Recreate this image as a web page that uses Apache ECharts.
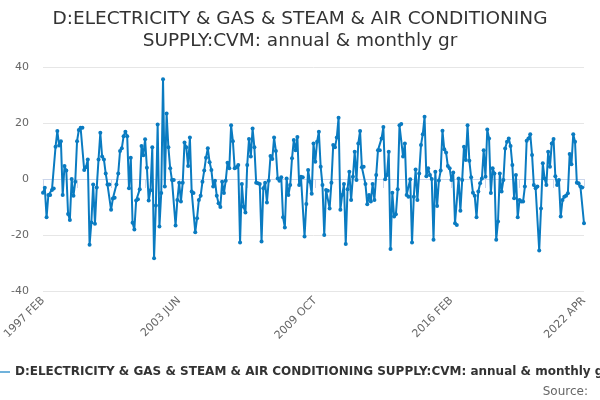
<!DOCTYPE html>
<html>
<head>
<meta charset="utf-8">
<script src="https://cdn.jsdelivr.net/npm/echarts@6/dist/echarts.min.js"></script>
<style>html,body{margin:0;padding:0;background:#fff}#c{width:600px;height:400px}</style>
</head>
<body>
<div id="c"></div>
<script>
var titleText = "D:ELECTRICITY & GAS & STEAM & AIR CONDITIONING\nSUPPLY:CVM: annual & monthly gr";
var seriesName = "D:ELECTRICITY & GAS & STEAM & AIR CONDITIONING SUPPLY:CVM: annual & monthly gr";
var monthNames = ["JAN","FEB","MAR","APR","MAY","JUN","JUL","AUG","SEP","OCT","NOV","DEC"];
var startYear = 1997, startMonth = 1, pointCount = 303;
var yTicks = [-40, -20, 0, 20, 40];

var values = [
-4.9,-3.1,-13.7,-5.7,-5.7,-3.9,-3.4,11.5,17.1,12,
13.5,-5.7,4.6,3,-12.5,-14.6,0,-6,-1,13.5,
17.5,18.3,18.3,3.2,4.2,7,-23.5,-15.5,-2,-16,
-3,7,16.5,8,7,2,-2,-2,-11,-7,
-6.7,-2,2,10,11,15.3,16.9,15.3,-3.3,7.6,
-15.6,-18,-7.7,-7.2,-3.7,11.8,8.5,14.2,4,-7.7,
-4,11.3,-28.3,-9.5,19.5,-17,-5,35.6,-2.7,23.4,
11.3,3.8,-0.4,-0.4,-16.6,-7.5,-1.3,-8,-1.3,13,
11.3,4.6,14.8,-4.5,-5,-19,-14,-7.5,-6,-1,
3,7.6,11,6,3.2,-2.7,-0.6,-6,-8.7,-10,
-1,-5,-0.6,5.8,3.8,19.2,13.5,3.8,4.2,5,
-22.7,-1.8,-9.9,-12,5,14.3,8,18,11.3,-1.3,
-1.5,-1.8,-22.3,-3.3,-1.3,-8.4,-0.6,8.2,7.1,14.8,
10,0.2,-0.6,0.6,-13.7,-17.3,0.2,-5.7,-2.1,7.4,
13.9,10.3,15,-2.1,0.8,0.6,-20.5,-8.9,3.2,-1,
-5.3,12.7,6.2,13.3,16.9,4.4,-2.1,-20,-3.9,-4.2,
-10.5,-1.3,12.1,11.3,14.8,21.9,-11,-5.7,-1.8,-23.2,
-3.7,2.6,-7.5,0.8,9.7,-0.4,12.7,17.1,4.2,4.4,
-1.8,-9,-5.7,-8,-1.8,-7.5,1.4,10.3,10.3,14.5,
18.6,-0.1,1.4,9.7,-25,-4.9,-13.4,-12.6,-3.7,19.2,
19.6,8,12.7,-5.7,-6.3,-0.1,-22.7,-6.3,3.4,-7.5,
2,12.1,16,22.2,1,3.8,1.4,0,-21.7,2.6,
-9.6,-0.5,3,17.2,10.6,9.5,4.6,3.8,-0.4,2.3,
-15.8,-16.4,0.2,-11.3,-0.4,11.5,6.8,19.2,6.5,0.6,
-4.9,-6,-13.7,-4.5,-1.5,0.2,10.3,0.8,17.7,14.5,
-5,3.8,2,-21.7,-15.2,2,-4.5,-0.4,10.9,13.3,
14.5,11.8,5,-6.9,1.4,-13.7,-7.5,-8,-8,-2.7,
13.7,14.5,16,8.6,-2.1,-3.3,-2.7,-25.5,-10.5,5.6,
0.2,-2.1,9.7,4.4,12.7,14.3,1,-2.1,-0.4,-13.4,
-7.5,-6.3,-6,-5.1,8.9,5.3,16,13.3,-1.3,-1.5,
-2.7,-3,-15.8
];

var categories = [];
for (var k = 0; k < pointCount; k++) {
  var m = startMonth + k;
  categories.push((startYear + Math.floor(m / 12)) + " " + monthNames[m % 12]);
}

var chart = echarts.init(document.getElementById('c'), null, {renderer: 'canvas'});
chart.setOption({
  animation: false,
  backgroundColor: '#ffffff',
  title: {
    text: titleText,
    left: 'center',
    top: 3,
    textStyle: {fontFamily: 'DejaVu Sans', fontSize: 18.5, fontWeight: 'normal', color: '#333333', lineHeight: 22}
  },
  legend: {
    left: -9,
    bottom: 17,
    itemWidth: 14,
    itemHeight: 8,
    itemGap: 4,
    data: [{name: seriesName, icon: 'path://M0,3.5L12,3.5L12,4.5L0,4.5Z'}],
    textStyle: {fontFamily: 'DejaVu Sans', fontSize: 12, fontWeight: 'bold', color: '#333333'}
  },
  graphic: [{
    type: 'text', right: 12, bottom: 2,
    style: {text: 'Source:', font: '12px "DejaVu Sans"', fill: '#666666'}
  }],
  grid: {left: 43, right: 16, top: 67, bottom: 109, containLabel: false},
  xAxis: {
    type: 'category',
    data: categories,
    boundaryGap: false,
    axisLine: {lineStyle: {color: '#ccd6eb', width: 1}},
    axisTick: {show: true, interval: 18, length: 9, lineStyle: {color: '#ccd6eb'}},
    axisLabel: {interval: 75, rotate: 45, color: '#666666', fontSize: 11, fontFamily: 'DejaVu Sans', showMaxLabel: true, margin: 8},
    splitLine: {show: false}
  },
  yAxis: {
    type: 'value',
    min: yTicks[0],
    max: yTicks[yTicks.length - 1],
    interval: 20,
    axisLine: {show: false},
    axisTick: {show: false},
    axisLabel: {color: '#666666', fontSize: 11, fontFamily: 'DejaVu Sans', margin: 14},
    splitLine: {lineStyle: {color: '#e6e6e6', width: 1}}
  },
  series: [{
    name: seriesName,
    type: 'line',
    data: values,
    symbol: 'circle',
    symbolSize: 4,
    showSymbol: true,
    showAllSymbol: true,
    color: '#0a7bc1',
    lineStyle: {width: 2, color: '#0a7bc1'},
    itemStyle: {color: '#0a7bc1'}
  }]
});
</script>
</body>
</html>
